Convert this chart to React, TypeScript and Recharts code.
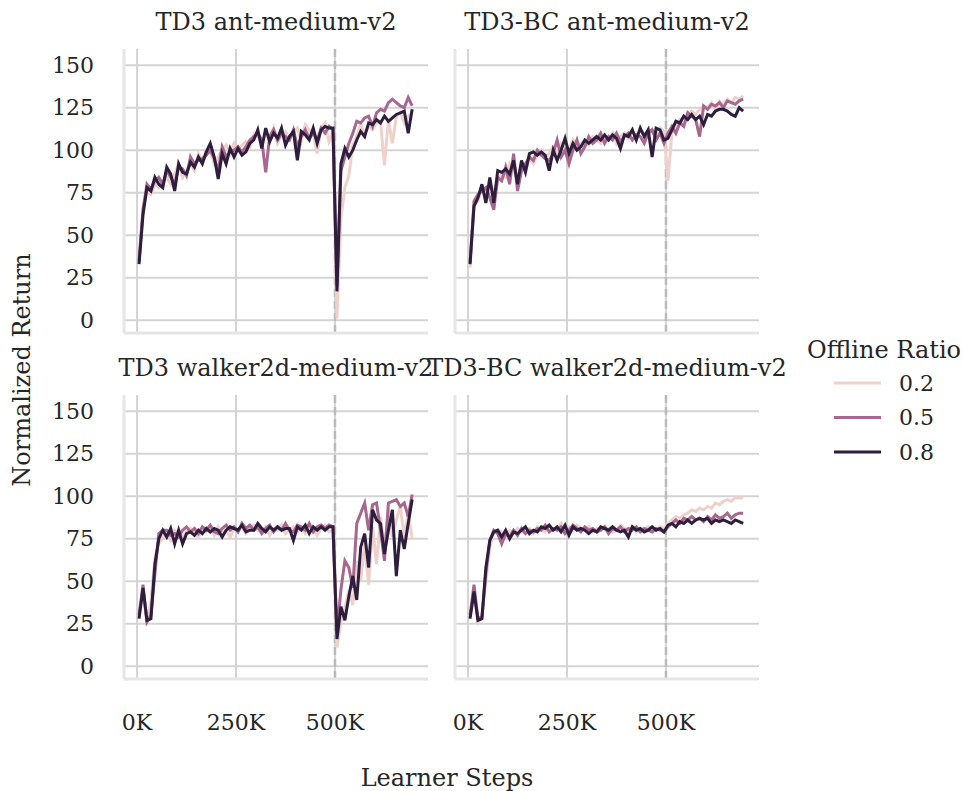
import { LineChart, Line, XAxis, YAxis, ReferenceLine } from 'recharts'

const steps = [
  5, 15, 25, 35, 45, 55, 65, 75, 85, 95,
  105, 115, 125, 135, 145, 155, 165, 175, 185, 195,
  205, 215, 225, 235, 245, 255, 265, 275, 285, 295,
  305, 315, 325, 335, 345, 355, 365, 375, 385, 395,
  405, 415, 425, 435, 445, 455, 465, 475, 485, 495,
  505, 515, 525, 535, 545, 555, 565, 575, 585, 595,
  605, 615, 625, 635, 645, 655, 665, 675, 685, 695,
]

const xTicks = [0, 250, 500]
const yTicks = [0, 25, 50, 75, 100, 125, 150]
const ratios = ['0.2', '0.5', '0.8']

// TD3 ant-medium-v2
const td3Ant02 = [
  34, 66, 76, 74, 80, 78, 82, 84, 80, 86,
  92, 84, 88, 92, 88, 98, 94, 100, 99, 92,
  96, 100, 103, 98, 104, 100, 103, 105, 102, 109,
  108, 104, 110, 106, 113, 104, 109, 111, 107, 110,
  113, 105, 115, 112, 110, 98, 113, 116, 105, 111,
  1, 60, 78, 85, 103, 108, 115, 110, 114, 112,
  116, 117, 91, 118, 104, 120, 122, 116, 120, 122,
]
const td3Ant05 = [
  35, 65, 80, 77, 82, 84, 80, 88, 84, 80,
  90, 89, 85, 96, 92, 94, 95, 97, 100, 95,
  88, 102, 96, 99, 100, 102, 99, 102, 106, 108,
  110, 106, 87, 108, 112, 106, 110, 108, 106, 112,
  102, 108, 112, 107, 110, 106, 113, 110, 114, 112,
  20, 88, 96, 104, 110, 117, 116, 119, 120, 114,
  122, 124, 123, 128, 130, 128, 126, 125, 131, 126,
]
const td3Ant08 = [
  33, 62, 78, 76, 84, 80, 78, 90, 86, 76,
  92, 87, 86, 93, 90, 96, 92, 99, 104, 96,
  83, 98, 92, 101, 96, 101, 97, 99, 104, 106,
  112, 101, 113, 105, 110, 107, 113, 103, 108, 111,
  94, 111, 109, 106, 113, 104, 112, 114, 113, 113,
  17, 92, 101, 96, 100, 106, 111, 108, 116, 115,
  118, 116, 120, 117, 119, 121, 122, 123, 110, 124,
]

// TD3-BC ant-medium-v2
const bcAnt02 = [
  31, 68, 70, 78, 74, 80, 76, 82, 86, 84,
  92, 88, 84, 92, 88, 95, 92, 98, 100, 96,
  98, 102, 98, 104, 102, 100, 106, 102, 104, 106,
  103, 108, 106, 104, 108, 106, 110, 104, 108, 110,
  107, 111, 108, 112, 110, 108, 112, 109, 113, 111,
  82, 110, 114, 118, 115, 120, 123, 121, 124, 126,
  125, 128, 124, 129, 127, 130, 128, 131, 130, 132,
]
const bcAnt05 = [
  34, 70, 74, 76, 78, 72, 65, 84, 82, 90,
  80, 98, 76, 88, 92, 96, 94, 100, 97, 95,
  94, 98, 106, 96, 100, 92, 100, 106, 98, 102,
  108, 104, 106, 110, 104, 108, 106, 110, 105, 108,
  110, 106, 109, 108, 104, 110, 112, 106, 110, 104,
  110, 114, 110, 116, 114, 122, 120, 118, 108, 126,
  124, 127, 126, 128, 125, 129, 128, 127, 129, 130,
]
const bcAnt08 = [
  33, 67, 72, 80, 69, 84, 69, 88, 87, 89,
  86, 94, 80, 94, 87, 98, 99, 97, 99, 97,
  88, 100, 94, 100, 107, 98, 104, 100, 102, 106,
  104, 106, 108, 106, 109, 106, 109, 107, 101, 109,
  108, 112, 106, 113, 108, 112, 96, 113, 112, 106,
  107, 112, 117, 116, 120, 118, 121, 118, 120, 115,
  121, 120, 123, 124, 124, 123, 121, 120, 125, 123,
]

// TD3 walker2d-medium-v2
const td3Walker02 = [
  29, 45, 25, 38, 64, 72, 76, 78, 74, 80,
  78, 76, 79, 81, 78, 76, 80, 79, 81, 77,
  82, 78, 80, 76, 81, 79, 82, 78, 81, 83,
  80, 79, 82, 77, 81, 80, 83, 78, 80, 82,
  79, 81, 78, 82, 80, 77, 81, 83, 79, 80,
  11, 26, 34, 45, 36, 62, 50, 72, 48, 82,
  60, 88, 70, 92, 76, 86, 94, 76, 90, 75,
]
const td3Walker05 = [
  30, 48, 26, 30, 54, 78, 80, 80, 77, 78,
  76, 80, 82, 79, 81, 78, 82, 80, 83, 79,
  78, 81, 83, 80, 82, 79, 84, 81, 83, 80,
  82, 78, 81, 83, 79, 82, 80, 84, 80, 79,
  83, 82, 80, 84, 79, 82, 83, 81, 83, 82,
  20, 45, 62, 58, 46, 84, 90, 96, 80, 95,
  96, 80, 62, 96, 97, 98, 94, 96, 88, 101,
]
const td3Walker08 = [
  28, 46, 27, 28, 60, 75, 80, 76, 81, 72,
  80, 72, 78, 79, 77, 80, 78, 81, 79, 81,
  80, 76, 80, 82, 81, 80, 83, 79, 80, 80,
  84, 81, 79, 82, 80, 82, 80, 81, 81, 74,
  82, 80, 83, 78, 82, 80, 82, 80, 82, 82,
  16, 35, 27, 41, 53, 39, 70, 78, 58, 92,
  86, 84, 66, 80, 92, 53, 80, 69, 84, 98,
]

// TD3-BC walker2d-medium-v2
const bcWalker02 = [
  29, 42, 26, 30, 50, 70, 78, 80, 79, 76,
  80, 78, 81, 79, 80, 81, 78, 82, 80, 79,
  83, 80, 81, 84, 79, 82, 80, 83, 81, 80,
  82, 79, 81, 80, 82, 81, 79, 80, 83, 81,
  80, 82, 79, 81, 80, 82, 81, 80, 82, 81,
  84, 86, 88, 87, 89, 90, 92, 91, 93, 92,
  94, 93, 96, 95, 97, 98, 97, 99, 99, 99,
]
const bcWalker05 = [
  30, 48, 28, 29, 55, 74, 80, 78, 72, 78,
  76, 80, 77, 81, 78, 80, 79, 81, 80, 83,
  79, 81, 80, 82, 78, 80, 83, 81, 79, 82,
  80, 81, 79, 80, 82, 78, 81, 80, 82, 79,
  81, 80, 82, 79, 81, 80, 79, 81, 80, 79,
  82, 84, 86, 84, 87, 86, 88, 86, 87, 85,
  88, 86, 89, 87, 88, 90, 87, 89, 90, 90,
]
const bcWalker08 = [
  28, 44, 27, 28, 58, 74, 79, 80, 76, 80,
  75, 79, 78, 80, 82, 78, 80, 79, 82, 81,
  83, 80, 82, 79, 83, 77, 82, 80, 81, 80,
  78, 80, 79, 82, 81, 80, 82, 80, 79, 80,
  76, 82, 80, 81, 79, 80, 82, 80, 81, 79,
  83, 84, 82, 85, 84, 86, 84, 86, 87, 86,
  87, 84, 86, 85, 86, 85, 84, 86, 85, 84,
]

const colors = ['#eed1cb', '#a8678e', '#2d1e3e']
const font = "'DejaVu Serif', serif"
const textColor = '#262626'
const gridColor = '#d4d4d4'
const spineColor = '#e6e6e6'

const toRows = (a: number[], b: number[], c: number[]) =>
  steps.map((s, i) => ({ step: s, r02: a[i], r05: b[i], r08: c[i] }))

const panels = [
  { title: 'TD3 ant-medium-v2', rows: toRows(td3Ant02, td3Ant05, td3Ant08), left: 124, top: 49, showY: true, showX: false },
  { title: 'TD3-BC ant-medium-v2', rows: toRows(bcAnt02, bcAnt05, bcAnt08), left: 455, top: 49, showY: false, showX: false },
  { title: 'TD3 walker2d-medium-v2', rows: toRows(td3Walker02, td3Walker05, td3Walker08), left: 124, top: 395, showY: true, showX: true },
  { title: 'TD3-BC walker2d-medium-v2', rows: toRows(bcWalker02, bcWalker05, bcWalker08), left: 455, top: 395, showY: false, showX: true },
]

const PW = 304
const PH = 284
const PAD_L = 100
const PAD_T = 10

function YTick(props: any) {
  return (
    <text x={PAD_L - 30} y={props.y} textAnchor="end" dominantBaseline="central"
      fontSize={22} fill={textColor} fontFamily={font}>
      {props.payload.value}
    </text>
  )
}

function XTick(props: any) {
  return (
    <text x={props.x} y={PAD_T + PH + 43} textAnchor="middle" dominantBaseline="central"
      fontSize={22} fill={textColor} fontFamily={font}>
      {`${props.payload.value}K`}
    </text>
  )
}

function Panel({ rows, left, top, showY, showX }: any) {
  return (
    <div style={{ position: 'absolute', left: left - PAD_L, top: top - PAD_T }}>
      <LineChart width={PAD_L + PW + 10} height={PAD_T + PH + 60} data={rows}
        margin={{ top: PAD_T, right: 10, bottom: 0, left: 0 }}>
        <XAxis dataKey="step" type="number" domain={[-33, 735]} ticks={xTicks} allowDataOverflow
          height={60} tickLine={false} axisLine={{ stroke: spineColor, strokeWidth: 3 }}
          tick={showX ? XTick : false} />
        <YAxis type="number" domain={[-7.5, 159.5]} ticks={yTicks} allowDataOverflow
          width={PAD_L} tickLine={false} axisLine={{ stroke: spineColor, strokeWidth: 3 }}
          tick={showY ? YTick : false} />
        {yTicks.map(v => <ReferenceLine key={`y${v}`} y={v} stroke={gridColor} strokeWidth={2} />)}
        {xTicks.map(v => <ReferenceLine key={`x${v}`} x={v} stroke={gridColor} strokeWidth={2} />)}
        <ReferenceLine x={500} stroke="#bababa" strokeWidth={2.5} strokeDasharray="8 4" />
        <Line dataKey="r02" stroke={colors[0]} strokeWidth={3} dot={false} isAnimationActive={false} />
        <Line dataKey="r05" stroke={colors[1]} strokeWidth={3} dot={false} isAnimationActive={false} />
        <Line dataKey="r08" stroke={colors[2]} strokeWidth={3} dot={false} isAnimationActive={false} />
      </LineChart>
    </div>
  )
}

export default function App() {
  return (
    <div style={{ position: 'absolute', left: 0, top: 0, width: 964, height: 791, background: '#fff', fontFamily: font }}>
      {panels.map(p => <Panel key={p.title} {...p} />)}
      <svg width={964} height={791} style={{ position: 'absolute', left: 0, top: 0, pointerEvents: 'none' }}
        fontFamily={font} fill={textColor}>
        {panels.map(p => (
          <text key={p.title} x={p.left + PW / 2} y={p.top - 27} textAnchor="middle"
            dominantBaseline="central" fontSize={24}>{p.title}</text>
        ))}
        <text x={22} y={370} textAnchor="middle" dominantBaseline="central" fontSize={24}
          transform="rotate(-90 22 370)">Normalized Return</text>
        <text x={447} y={778} textAnchor="middle" dominantBaseline="central" fontSize={24}>Learner Steps</text>
        <text x={884} y={350} textAnchor="middle" dominantBaseline="central" fontSize={24}>Offline Ratio</text>
        {ratios.map((r, i) => (
          <g key={r}>
            <line x1={834} x2={881} y1={383 + i * 34.5} y2={383 + i * 34.5} stroke={colors[i]} strokeWidth={3} />
            <text x={899} y={383 + i * 34.5} dominantBaseline="central" fontSize={22}>{r}</text>
          </g>
        ))}
      </svg>
    </div>
  )
}
